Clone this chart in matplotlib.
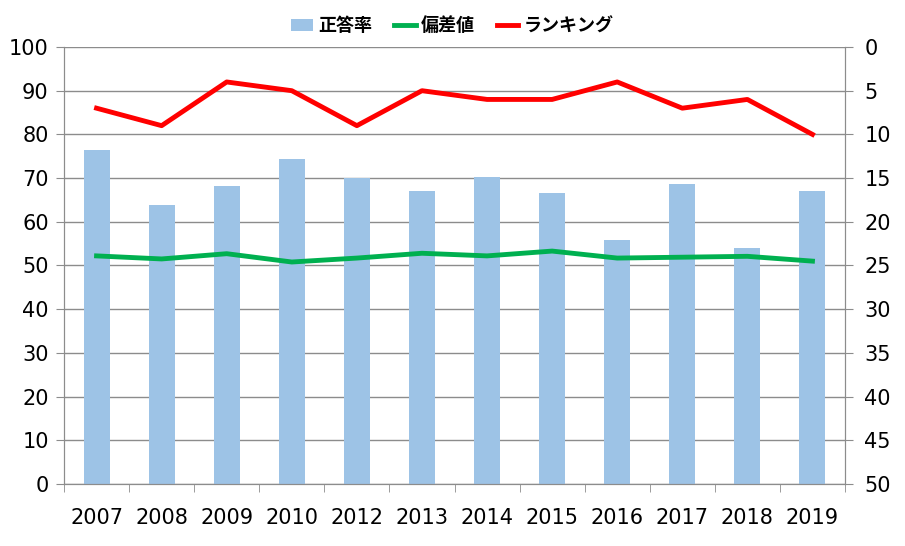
import numpy as np
import matplotlib
matplotlib.use("Agg")
import matplotlib.pyplot as plt

plt.rcParams['font.family'] = ['DejaVu Sans', 'Noto Sans CJK JP']

years = ["2007", "2008", "2009", "2010", "2012", "2013", "2014",
         "2015", "2016", "2017", "2018", "2019"]
seitou = [76.4, 63.8, 68.2, 74.4, 70.0, 67.0, 70.3, 66.6, 55.8, 68.6, 54.0, 67.0]   # 正答率
hensachi = [52.2, 51.5, 52.7, 50.8, 51.7, 52.8, 52.2, 53.3, 51.7, 51.9, 52.1, 51.0]  # 偏差値
ranking = [7, 9, 4, 5, 9, 5, 6, 6, 4, 7, 6, 10]                                       # ランキング

grid_c = "#8c8c8c"
x = np.arange(len(years))

fig = plt.figure(figsize=(9.05, 5.46), dpi=100)
ax = fig.add_axes([64/905, 1-484/546, (845-64)/905, (484-47)/546])
ax2 = ax.twinx()

b = ax.bar(x, seitou, width=0.4, color="#9dc3e6", label="正答率", zorder=2)
g, = ax.plot(x, hensachi, color="#00b050", lw=3.5, label="偏差値", zorder=3)
r, = ax2.plot(x, ranking, color="#ff0000", lw=3.5, label="ランキング", zorder=3)

ax.set_xlim(-0.5, len(years) - 0.5)
ax.set_ylim(0, 100)
ax.set_yticks(np.arange(0, 101, 10))
ax2.set_ylim(50, 0)
ax2.set_yticks(np.arange(0, 51, 5))

ax.grid(axis="y", color=grid_c, lw=1, zorder=0)
ax.set_axisbelow(True)

ax.set_xticks(x)
ax.set_xticklabels(years)
ax.set_xticks(np.arange(-0.5, len(years), 1), minor=True)
ax.tick_params(axis="x", which="major", length=0, pad=17, labelsize=15)
ax.tick_params(axis="x", which="minor", length=6, color=grid_c, direction="out")
ax.tick_params(axis="y", length=6, color=grid_c, labelsize=15, pad=5)
ax2.tick_params(axis="y", length=6, color=grid_c, labelsize=15, pad=8)

for a in (ax, ax2):
    a.spines["top"].set_visible(False)
    for s in ("left", "right", "bottom"):
        a.spines[s].set_color(grid_c)

fig.legend([b, g, r], ["正答率", "偏差値", "ランキング"], loc="upper center",
           bbox_to_anchor=(0.5, 1.0), ncol=3, frameon=False,
           prop={"family": "Noto Sans CJK JP", "size": 13, "weight": "bold"},
           handlelength=1.2, handletextpad=0.3, columnspacing=1.2)

fig.savefig("out.png", dpi=100)
